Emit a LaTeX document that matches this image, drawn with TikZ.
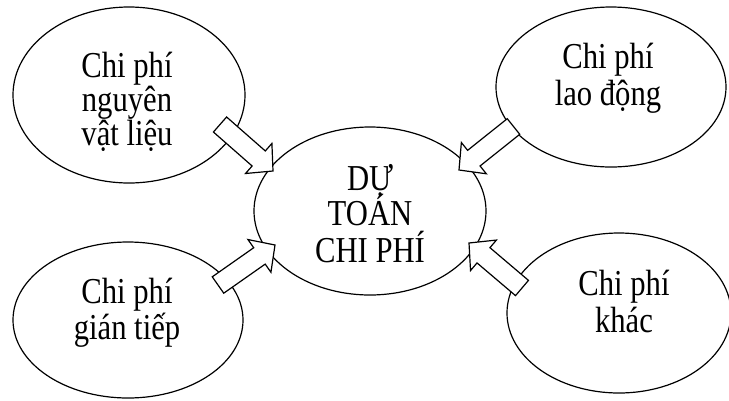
\documentclass[tikz,border=0pt]{standalone}
\usepackage{fontspec}
\setmainfont{Liberation Serif}[FakeStretch=0.84]
\usetikzlibrary{calc,shapes.geometric}
\tikzset{
  oval/.style={draw,ellipse,line width=1.2pt,inner sep=0pt},
  lbl/.style={anchor=base,inner sep=0pt,font=\fontsize{36.5}{36}\selectfont},
  blk/.style={draw,fill=white,line width=1.2pt,line join=miter},
}
\newcommand\blockarrow[3]{%
  \coordinate (#1hb) at ($(#3)!19pt!(#2)$);
  \draw[blk] ($(#2)!10pt!90:(#3)$) -- ($(#1hb)!10pt!90:(#3)$) -- ($(#1hb)!20pt!90:(#3)$)
    -- (#3) -- ($(#1hb)!20pt!-90:(#3)$) -- ($(#1hb)!10pt!-90:(#3)$)
    -- ($(#2)!10pt!-90:(#3)$) -- cycle;
}
\begin{document}
\begin{tikzpicture}[x=1pt,y=-1pt]
\useasboundingbox (0,0) rectangle (729,400);
% ellipses
\node[oval,minimum width=232pt,minimum height=176pt] (tl) at (129,95) {};
\node[oval,minimum width=230pt,minimum height=160pt] (tr) at (611,87) {};
\node[oval,minimum width=232pt,minimum height=168pt] (c) at (370,211) {};
\node[oval,minimum width=230pt,minimum height=156pt] (bl) at (128,320) {};
\node[oval,minimum width=224pt,minimum height=160pt] (br) at (619,313) {};
% texts
\node[lbl] (tl1) at (127,77) {Chi phí};
\node[lbl] (tl2) at (127,111) {nguyên};
\node[lbl] (tl3) at (127,145) {vật liệu};
\node[lbl] (tr1) at (608,68) {Chi phí};
\node[lbl] (tr2) at (608,105) {lao động};
\node[lbl] (c1) at (370,190) {DỰ};
\node[lbl] (c2) at (370,225) {TOÁN};
\node[lbl] (c3) at (370,262) {CHI PHÍ};
\node[lbl] (bl1) at (127,303) {Chi phí};
\node[lbl] (bl2) at (127,339) {gián tiếp};
\node[lbl] (br1) at (624,295) {Chi phí};
\node[lbl] (br2) at (624,332) {khác};
% arrows
\coordinate (a1s) at (220,124.5); \coordinate (a1e) at (273,171);
\coordinate (a2s) at (513.5,126.5); \coordinate (a2e) at (459,170);
\coordinate (a3s) at (218,285); \coordinate (a3e) at (275,245);
\coordinate (a4s) at (522,288); \coordinate (a4e) at (469,243);
\blockarrow{a1}{a1s}{a1e}
\blockarrow{a2}{a2s}{a2e}
\blockarrow{a3}{a3s}{a3e}
\blockarrow{a4}{a4s}{a4e}
\end{tikzpicture}
\end{document}
